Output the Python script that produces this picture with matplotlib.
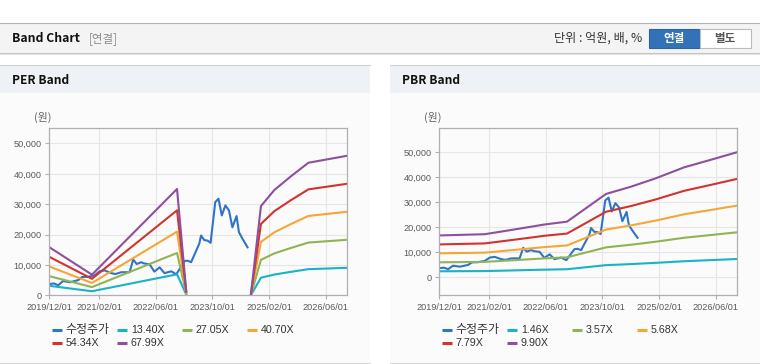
import numpy as np
import pandas as pd
import matplotlib
matplotlib.use('Agg')
import matplotlib.pyplot as plt
from matplotlib.patches import Rectangle
from matplotlib.lines import Line2D
from matplotlib.ticker import FuncFormatter
import matplotlib.dates as mdates

plt.rcParams['font.family'] = ['Liberation Sans', 'Noto Sans CJK KR']

# 수정주가 (adjusted price)
price_dates = ['2019-12-01', '2020-01-10', '2020-02-15', '2020-03-28', '2020-05-25',
               '2020-08-05', '2020-09-05', '2020-11-01', '2020-12-25', '2021-02-05',
               '2021-03-20', '2021-05-15', '2021-06-20', '2021-08-10', '2021-10-20',
               '2021-11-20', '2021-12-20', '2022-01-28', '2022-02-20', '2022-04-10',
               '2022-05-20', '2022-07-05', '2022-08-15', '2022-10-12', '2022-11-25',
               '2023-01-05', '2023-02-03', '2023-03-01', '2023-04-01', '2023-05-12',
               '2023-06-10', '2023-06-25', '2023-07-22', '2023-08-20', '2023-09-15',
               '2023-10-25', '2023-11-22', '2023-12-20', '2024-01-20', '2024-02-20',
               '2024-03-20', '2024-04-25', '2024-05-15', '2024-06-15', '2024-07-28']
price = [3700, 3900, 3300, 4700, 4300, 5000, 6000, 6100, 6600, 7900,
         8200, 7300, 7000, 7600, 7600, 11800, 10300, 10900, 10500, 10200,
         7800, 9200, 7300, 7900, 6900, 9500, 11300, 11400, 10900, 14500,
         17000, 19700, 18200, 18000, 17300, 30700, 31800, 26300, 29600, 27900,
         22400, 26100, 20800, 18600, 15800]

# PER band base (EPS), gap where EPS is negative
eps_dates = ['2019-12-01', '2020-12-01', '2022-12-01', '2023-02-18', '2023-06-01',
             '2024-08-25', '2024-11-20', '2025-03-15', '2025-08-01', '2026-01-01',
             '2026-11-30']
eps = [233, 100, 515, 20, np.nan, 0, 432, 510, 575, 642, 676]
per_labels = ['13.40X', '27.05X', '40.70X', '54.34X', '67.99X']
per_mult = [13.40, 27.05, 40.70, 54.34, 67.99]

# PBR band base (BPS)
bps_dates = ['2019-12-01', '2020-12-25', '2021-10-01', '2022-05-20', '2022-12-01',
             '2023-11-01', '2024-06-01', '2025-01-01', '2025-09-01', '2026-04-15',
             '2026-11-30']
bps = [1690, 1740, 1950, 2130, 2245, 3360, 3650, 3990, 4430, 4730, 5040]
pbr_labels = ['1.46X', '3.57X', '5.68X', '7.79X', '9.90X']
pbr_mult = [1.46, 3.57, 5.68, 7.79, 9.90]

tick_dates = ['2019-12-01', '2021-02-01', '2022-06-01', '2023-10-01', '2025-02-01', '2026-06-01']

price_color = '#2f74c7'
band_colors = ['#1ab2c7', '#8fb453', '#f4a636', '#d1332e', '#8e4f9f']

W, H = 760, 364
fig = plt.figure(figsize=(W / 100, H / 100), dpi=100)
fig.patch.set_facecolor('white')


def box(x, y, w, h, **kw):
    fig.add_artist(Rectangle((x / W, 1 - (y + h) / H), w / W, h / H,
                             transform=fig.transFigure, zorder=-2, **kw))


def hline(x0, x1, y, **kw):
    fig.add_artist(Line2D([x0 / W, x1 / W], [1 - y / H] * 2,
                          transform=fig.transFigure, **kw))


def text(x, y, s, **kw):
    fig.text(x / W, 1 - y / H, s, **kw)


# top header
box(0, 23, W, 30, fc='#f4f4f4', ec='none')
hline(0, W, 22.5, color='#b4b4b4', lw=0.8)
hline(0, W, 53, color='#c4c4c4', lw=0.8)
hline(0, W, 54, color='#e4e4e4', lw=0.8)
text(12, 38.5, 'Band Chart', fontsize=8.8, fontweight='bold', color='#111111',
     va='center', family=['Noto Sans CJK KR'])
text(89, 38.5, '[연결]', fontsize=8.3, color='#8a8a8a', va='center',
     family=['Noto Sans CJK KR'])
text(642, 38.5, '단위 : 억원, 배, %', fontsize=8.7, color='#333333', va='center',
     ha='right', family=['Noto Sans CJK KR'])
box(648.5, 29, 51, 19, fc='#3472b8', ec='#2c64a6', lw=0.8)
box(699.5, 29, 51, 19, fc='white', ec='#bcbcbc', lw=0.8)
text(674, 38.5, '연결', fontsize=8.3, fontweight='bold', color='white',
     va='center', ha='center', family=['Noto Sans CJK KR'])
text(725, 38.5, '별도', fontsize=8.3, fontweight='bold', color='#555555',
     va='center', ha='center', family=['Noto Sans CJK KR'])


def panel(x0, title):
    box(x0, 64.5, 370, 298, fc='#fbfbfb', ec='none')
    box(x0, 64.5, 370, 28.5, fc='#eef1f6', ec='none')
    hline(x0, x0 + 370, 64.5, color='#d2d2d2', lw=0.8)
    hline(x0, x0 + 370, 362.5, color='#d8d8d8', lw=0.8)
    text(x0 + 12, 80, title, fontsize=8.6, fontweight='bold', color='#111111',
         va='center', family=['Noto Sans CJK KR'])


def band_axes(left, base_dates, base, mult, labels, ylim, title, px0):
    panel(px0, title)
    ax = fig.add_axes([left / W, 1 - 295.3 / H, 298 / W, 167 / H])
    ax.set_facecolor('none')
    ax.plot(pd.to_datetime(price_dates), price, color=price_color, lw=1.5)
    for m, c in zip(mult, band_colors):
        ax.plot(pd.to_datetime(base_dates), np.array(base, dtype=float) * m,
                color=c, lw=1.5)
    ax.set_xlim(pd.Timestamp('2019-12-01'), pd.Timestamp('2026-12-01'))
    ax.set_ylim(*ylim)
    ax.set_xticks(pd.to_datetime(tick_dates))
    ax.xaxis.set_major_formatter(mdates.DateFormatter('%Y/%m/%d'))
    ax.set_yticks(range(0, 50001, 10000))
    ax.yaxis.set_major_formatter(FuncFormatter(lambda v, p: f'{v:,.0f}'))
    ax.grid(color='#e6e6e6', lw=0.8)
    ax.set_axisbelow(True)
    for s in ax.spines.values():
        s.set_color('#b0b0b0')
        s.set_linewidth(0.9)
    ax.tick_params(direction='out', length=3, width=0.8, color='#b0b0b0',
                   labelsize=6.6, labelcolor='#5a5a5a', pad=2.5)
    text(left - 15, 117, '(원)', fontsize=7.8, color='#666666', va='center',
         family=['Noto Sans CJK KR'])

    # legend rows
    names = ['수정주가'] + labels
    colors = [price_color] + band_colors
    for i, (n, c) in enumerate(zip(names, colors)):
        x = left + 2.5 + 65 * (i % 4)
        y = 330 + 13.3 * (i // 4)
        hline(x, x + 10.5, y, color=c, lw=2.2, solid_capstyle='butt')
        text(x + 14, y, n, fontsize=8.6 if i == 0 else 7.7, color='#333333',
             va='center')
    return ax


band_axes(49.3, eps_dates, eps, per_mult, per_labels, (0, 55000), 'PER Band', 0)
band_axes(439.3, bps_dates, bps, pbr_mult, pbr_labels, (-7100, 59400), 'PBR Band', 390)

fig.savefig('out.png', dpi=100)
